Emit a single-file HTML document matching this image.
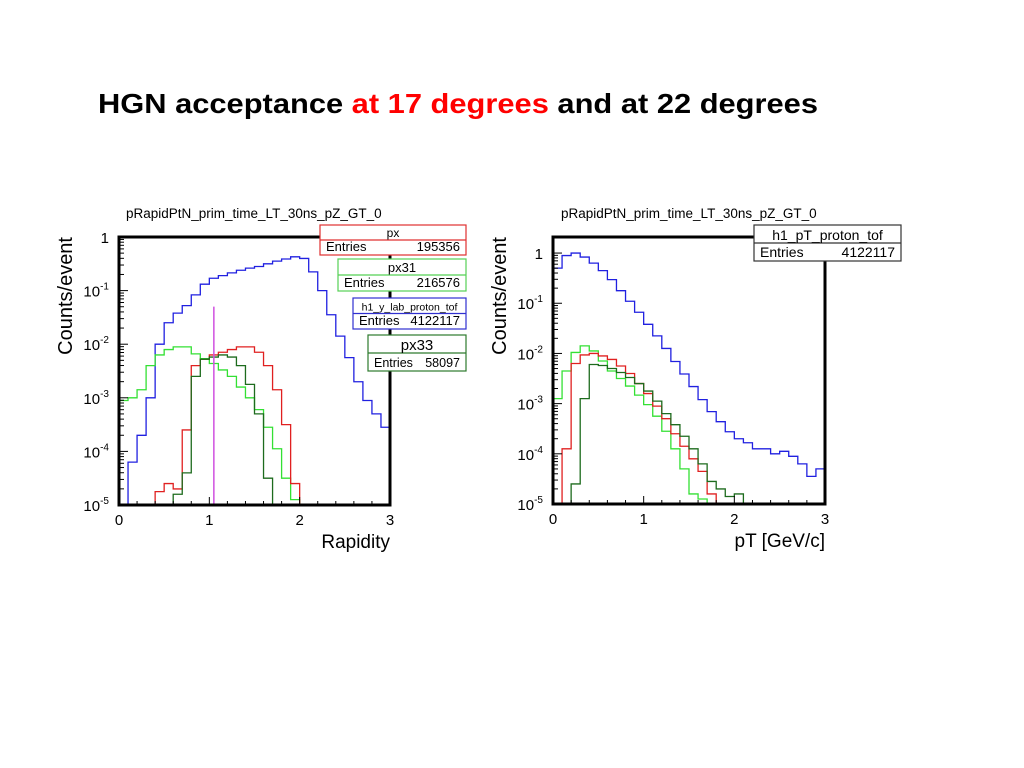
<!DOCTYPE html>
<html><head><meta charset="utf-8"><style>
html,body{margin:0;padding:0;background:#fff;}
svg{display:block;font-family:"Liberation Sans",Arial,sans-serif;}
</style></head><body>
<svg id="root" width="1024" height="768" viewBox="0 0 1024 768">
<text x="98" y="113" font-size="28" font-weight="bold" textLength="720" lengthAdjust="spacingAndGlyphs">HGN acceptance <tspan fill="#f00">at 17 degrees</tspan> and at 22 degrees</text>
<g id="left"></g>
<g id="right"></g>
</svg>
<script>
// ---- data (log10 counts/event per 0.1-wide bin) ----
const binEdgesStart = 0, binWidth = 0.1;
const leftBlue  = [-5,-4.2,-3.7,-3.0,-2.0,-1.6,-1.42,-1.28,-1.08,-0.88,-0.77,-0.72,-0.67,-0.62,-0.58,-0.55,-0.5,-0.45,-0.41,-0.37,-0.4,-0.65,-1.0,-1.45,-1.85,-2.25,-2.7,-3.05,-3.3,-3.55];
const leftGreen = [-3.05,-3.0,-2.85,-2.4,-2.2,-2.1,-2.05,-2.05,-2.18,-2.27,-2.36,-2.48,-2.6,-2.8,-3.0,-3.22,-3.55,-3.95,-4.5,-4.9,-6,-6,-6,-6,-6,-6,-6,-6,-6,-6];
const leftRed   = [-6,-6,-6,-6,-4.75,-4.6,-4.7,-3.6,-2.4,-2.28,-2.2,-2.15,-2.1,-2.05,-2.05,-2.15,-2.4,-2.85,-3.5,-4.6,-6,-6,-6,-6,-6,-6,-6,-6,-6,-6];
const leftDark  = [-6,-6,-6,-6,-6,-6,-4.8,-4.4,-2.6,-2.28,-2.24,-2.2,-2.24,-2.4,-2.75,-3.3,-4.5,-6,-6,-6,-6,-6,-6,-6,-6,-6,-6,-6,-6,-6];
const leftMarkerX = 1.05, leftMarkerLog = -1.3;
const rightBlue  = [-0.3,-0.05,0.0,-0.08,-0.2,-0.35,-0.53,-0.75,-0.96,-1.18,-1.42,-1.65,-1.9,-2.16,-2.41,-2.66,-2.92,-3.16,-3.36,-3.56,-3.7,-3.78,-3.9,-3.9,-4.0,-3.95,-4.05,-4.2,-4.45,-4.3];
const rightGreen = [-2.9,-2.35,-1.98,-1.85,-1.95,-2.15,-2.35,-2.5,-2.65,-2.83,-3.02,-3.25,-3.55,-3.9,-4.3,-4.8,-4.9,-6,-6,-6,-6,-6,-6,-6,-6,-6,-6,-6,-6,-6];
const rightRed   = [-6,-3.9,-2.2,-2.03,-2.0,-2.05,-2.12,-2.25,-2.4,-2.6,-2.8,-3.05,-3.3,-3.6,-3.85,-4.1,-4.35,-4.8,-6,-6,-6,-6,-6,-6,-6,-6,-6,-6,-6,-6];
const rightDark  = [-6,-6,-4.6,-2.9,-2.22,-2.24,-2.3,-2.38,-2.48,-2.6,-2.75,-2.95,-3.2,-3.42,-3.65,-3.9,-4.2,-4.55,-4.7,-4.85,-4.8,-6,-6,-6,-6,-6,-6,-6,-6,-6];
const xTicks = [0,1,2,3];
const yDecades = [0,-1,-2,-3,-4,-5];

const NS="http://www.w3.org/2000/svg";
function mk(parent,tag,attrs,text){const e=document.createElementNS(NS,tag);for(const k in attrs)e.setAttribute(k,attrs[k]);if(text!==undefined)e.textContent=text;parent.appendChild(e);return e;}

function drawPlot(g,cfg){
  const X=v=>cfg.x0+(v/3)*(cfg.x1-cfg.x0);
  const Y=l=>{const c=Math.max(cfg.lmin,Math.min(cfg.lmax,l));return cfg.y1-(c-cfg.lmin)/(cfg.lmax-cfg.lmin)*(cfg.y1-cfg.y0);};
  const t=mk(g,'text',{x:cfg.titleX,y:218,'font-size':13.5});
  t.textContent='pRapidPtN_prim_time_LT_30ns_pZ_GT_0';
  
  
  cfg.series.forEach(s=>{
    let d='M'+X(0)+','+Y(s.vals[0]);
    s.vals.forEach((v,i)=>{const xa=binEdgesStart+i*binWidth;d+=' L'+X(xa)+','+Y(v)+' L'+X(xa+binWidth)+','+Y(v);});
    const p=mk(g,'path',{d:d,fill:'none',stroke:s.color,'stroke-width':1.3});
    
    
  });
  if(cfg.marker){
    const m=mk(g,'line',{x1:X(cfg.marker[0]),x2:X(cfg.marker[0]),y1:Y(-5),y2:Y(cfg.marker[1]),stroke:'#d050e0','stroke-width':1.5});
    
    
  }
  const f=mk(g,'rect',{x:cfg.x0,y:cfg.y0,width:cfg.x1-cfg.x0,height:cfg.y1-cfg.y0,fill:'none',stroke:'#000','stroke-width':3});
  
  
  for(let v=0;v<=3.001;v+=0.2){const xx=X(v);const major=Math.abs(v-Math.round(v))<1e-6;mk(g,'line',{x1:xx,x2:xx,y1:cfg.y1,y2:cfg.y1-(major?8:4),stroke:'#000'});}
  xTicks.forEach(v=>{const tl=mk(g,'text',{x:X(v),y:cfg.y1+20,'font-size':15,'text-anchor':'middle'},String(v));
    
    });
  yDecades.forEach(dd=>{const yy=Y(dd);mk(g,'line',{x1:cfg.x0,x2:cfg.x0+9,y1:yy,y2:yy,stroke:'#000'});
    for(let k=2;k<10;k++){const l=dd+Math.log10(k);if(l<=cfg.lmax){const y2=Y(l);mk(g,'line',{x1:cfg.x0,x2:cfg.x0+5,y1:y2,y2:y2,stroke:'#000'});}}
    const lab=mk(g,'text',{x:cfg.x0-10,y:yy+6,'font-size':15,'text-anchor':'end'});
    
    
    if(dd===0)lab.textContent='1';else{lab.textContent='10';mk(lab,'tspan',{dy:-7,'font-size':10},String(dd));}
  });
  const yl=mk(g,'text',{x:0,y:0,'font-size':20,'text-anchor':'end',transform:'translate('+(cfg.x0-47)+','+(cfg.y0)+') rotate(-90)'},'Counts/event');
  
  
  const xl=mk(g,'text',{x:cfg.x1,y:cfg.y1+43,'font-size':19,'text-anchor':'end'},cfg.xlabel);
  
  
  cfg.boxes.forEach(b=>{
    const bg=mk(g,'g',{});
    
    
    mk(bg,'rect',{x:b.x,y:b.y,width:b.w,height:b.h,fill:'#fff',stroke:b.color,'stroke-width':1.2});
    mk(bg,'line',{x1:b.x,x2:b.x+b.w,y1:b.y+b.h/2,y2:b.y+b.h/2,stroke:b.color,'stroke-width':1.2});
    mk(bg,'text',{x:b.x+b.w/2,y:b.y+b.h/2-3,'font-size':b.fs,'text-anchor':'middle'},b.title);
    mk(bg,'text',{x:b.x+6,y:b.y+b.h-4,'font-size':b.fs2},'Entries');
    mk(bg,'text',{x:b.x+b.w-6,y:b.y+b.h-4,'font-size':b.fs2,'text-anchor':'end'},b.entries);
  });
}

drawPlot(document.getElementById('left'),{
  x0:119,x1:390,y0:237,y1:505,lmin:-5,lmax:0,titleX:126,xlabel:'Rapidity',
  marker:[leftMarkerX,leftMarkerLog],
  series:[{vals:leftBlue,color:'#2020e0',name:'series-h1-y-lab-proton-tof'},{vals:leftGreen,color:'#33e033',name:'series-px31'},{vals:leftRed,color:'#e02020',name:'series-px'},{vals:leftDark,color:'#1d6b1d',name:'series-px33'}],
  boxes:[
    {x:320,y:225,w:146,h:30,color:'#e03030',title:'px',entries:'195356',fs:12,fs2:13},
    {x:338,y:259,w:128,h:32,color:'#55d055',title:'px31',entries:'216576',fs:13,fs2:13},
    {x:353,y:298,w:113,h:31,color:'#3030d0',title:'h1_y_lab_proton_tof',entries:'4122117',fs:10.5,fs2:13},
    {x:368,y:335,w:98,h:36,color:'#2d7a2d',title:'px33',entries:'58097',fs:15,fs2:12.5}
  ]
});
drawPlot(document.getElementById('right'),{
  x0:553,x1:825,y0:237,y1:504,lmin:-5,lmax:0.32,titleX:561,xlabel:'pT [GeV/c]',
  series:[{vals:rightBlue,color:'#2020e0',name:'series-h1-pt-proton-tof'},{vals:rightGreen,color:'#33e033',name:'series-px31'},{vals:rightRed,color:'#e02020',name:'series-px'},{vals:rightDark,color:'#1d6b1d',name:'series-px33'}],
  boxes:[{x:754,y:225,w:147,h:36,color:'#333',title:'h1_pT_proton_tof',entries:'4122117',fs:14,fs2:14}]
});
</script>
</body></html>
